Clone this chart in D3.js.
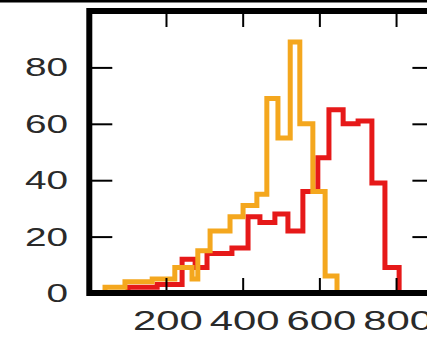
<!DOCTYPE html>
<html>
<head>
<meta charset="utf-8">
<script src="https://cdn.jsdelivr.net/npm/d3@7"></script>
<style>
  html, body { margin: 0; padding: 0; background: #fff; overflow: hidden; }
</style>
</head>
<body>
<div id="chart"></div>
<script>
// histogram outlines: bin edges (x units) and counts per bin
const redEdges = [101, 177, 242, 276, 307, 372, 414, 445, 484, 518, 557, 596, 625, 662, 701, 737, 771, 808];
const redCounts = [2, 3, 12, 9, 14, 16, 27, 25, 28, 22, 36, 48, 65, 60, 61, 39, 9];

const orangeEdges = [41, 93, 164, 223, 268, 283, 315, 367, 401, 437, 463, 492, 524, 549, 583, 615, 646];
const orangeCounts = [2, 4, 5, 9, 5, 15, 22, 27, 31, 35, 69, 55, 89, 60, 36, 6];

const xTicks = [200, 400, 600, 800];
const yTicks = [0, 20, 40, 60, 80];

const W = 427, H = 337;

const svg = d3.select("#chart").append("svg")
  .attr("width", W)
  .attr("height", H);

const x = d3.scaleLinear().domain([0, 900]).range([89.3, 434.4]);
const y = d3.scaleLinear().domain([0, 100]).range([293, 11]);

// turn edges + counts into step points
function stepPoints(edges, counts) {
  const pts = [[edges[0], 0]];
  counts.forEach((c, i) => pts.push([edges[i], c]));
  pts.push([edges[edges.length - 1], 0]);
  return pts;
}

const line = d3.line()
  .x(d => x(d[0]))
  .y(d => y(d[1]))
  .curve(d3.curveStepAfter);

svg.append("path")
  .attr("d", line(stepPoints(redEdges, redCounts)))
  .attr("fill", "none")
  .attr("stroke", "#e61919")
  .attr("stroke-width", 5)
  .attr("stroke-linejoin", "miter");

svg.append("path")
  .attr("d", line(stepPoints(orangeEdges, orangeCounts)))
  .attr("fill", "none")
  .attr("stroke", "#f4a71e")
  .attr("stroke-width", 5)
  .attr("stroke-linejoin", "miter");

// ticks pointing inward on all four sides
const tickStyle = g => {
  g.select(".domain").remove();
  g.selectAll(".tick line").attr("stroke", "#000").attr("stroke-width", 2);
};

svg.append("g")
  .attr("transform", `translate(0,${y(0)})`)
  .call(d3.axisBottom(x).tickValues(xTicks).tickSize(-15).tickFormat(""))
  .call(tickStyle);
svg.append("g")
  .attr("transform", `translate(0,${y(100)})`)
  .call(d3.axisTop(x).tickValues(xTicks).tickSize(-16).tickFormat(""))
  .call(tickStyle);
svg.append("g")
  .attr("transform", `translate(${x(0)},0)`)
  .call(d3.axisLeft(y).tickValues(yTicks.slice(1)).tickSize(-23).tickFormat(""))
  .call(tickStyle);
svg.append("g")
  .attr("transform", `translate(${x(900)},0)`)
  .call(d3.axisRight(y).tickValues(yTicks.slice(1)).tickSize(-22).tickFormat(""))
  .call(tickStyle);

// frame
svg.append("rect")
  .attr("x", x(0))
  .attr("y", y(100))
  .attr("width", x(900) - x(0))
  .attr("height", y(0) - y(100))
  .attr("fill", "none")
  .attr("stroke", "#000")
  .attr("stroke-width", 6);

// thin line along the very top
svg.append("line")
  .attr("x1", 0).attr("x2", W)
  .attr("y1", 1).attr("y2", 1)
  .attr("stroke", "#000")
  .attr("stroke-width", 3);

// labels (stretched horizontally like the original)
const sx = 1.55;
svg.append("g").selectAll("text")
  .data(xTicks)
  .join("text")
    .attr("transform", d => `translate(${x(d) + 2},330) scale(${sx},1)`)
    .attr("text-anchor", "middle")
    .attr("font-family", "Liberation Sans, Arial, sans-serif")
    .attr("font-size", 27)
    .attr("fill", "#2a2a2a")
    .text(d => d);

svg.append("g").selectAll("text")
  .data(yTicks)
  .join("text")
    .attr("transform", d => `translate(68,${y(d) + 9}) scale(${sx},1)`)
    .attr("text-anchor", "end")
    .attr("font-family", "Liberation Sans, Arial, sans-serif")
    .attr("font-size", 25)
    .attr("fill", "#2a2a2a")
    .text(d => d);
</script>
</body>
</html>
